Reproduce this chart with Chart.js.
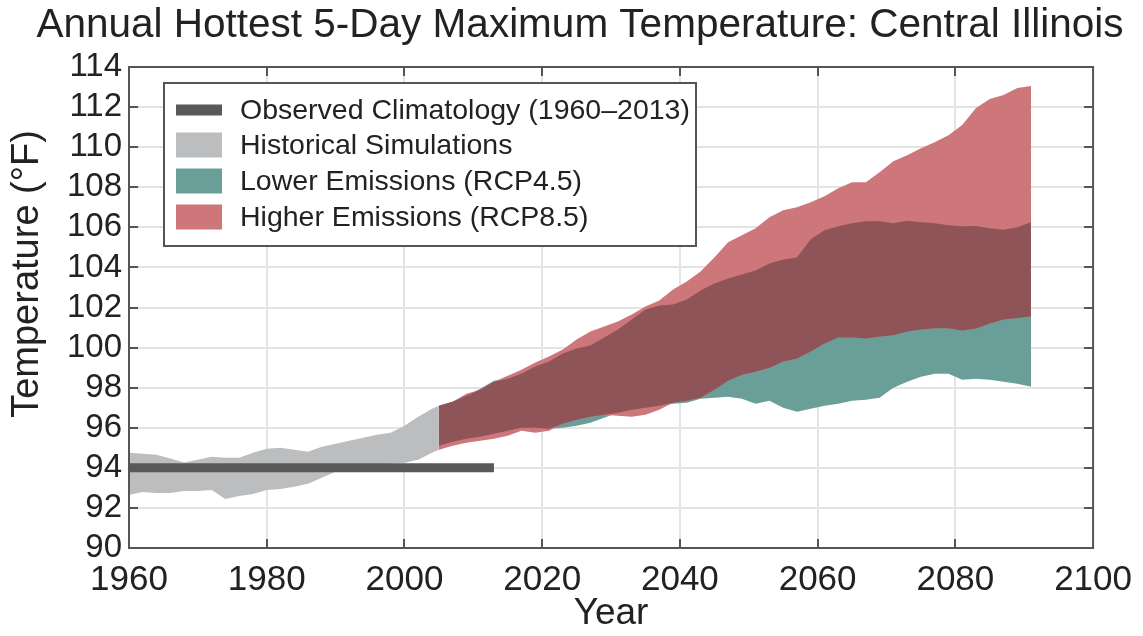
<!DOCTYPE html>
<html>
<head>
<meta charset="utf-8">
<script src="https://cdn.jsdelivr.net/npm/chart.js@4.4.1/dist/chart.umd.min.js"></script>
<style>
  html, body { margin: 0; padding: 0; background: #fff; overflow: hidden; }
  #wrap { width: 1143px; height: 636px; position: relative; }
</style>
</head>
<body>
<div id="wrap"><canvas id="chart"></canvas></div>
<script>
// historical simulations range
const histYears = [1960, 1962, 1964, 1966, 1968, 1970, 1972, 1974, 1976, 1978, 1980, 1982,
    1984, 1986, 1988, 1990, 1992, 1994, 1996, 1998, 2000, 2002, 2004, 2005];
const histUpper = [94.75, 94.7, 94.65, 94.47, 94.27, 94.4, 94.55, 94.5, 94.5, 94.75, 94.95, 95.0,
    94.9, 94.8, 95.05, 95.2, 95.35, 95.5, 95.65, 95.75, 96.1, 96.55, 96.95, 97.1];
const histLower = [92.65, 92.8, 92.75, 92.75, 92.85, 92.85, 92.9, 92.45, 92.6, 92.7, 92.9, 92.95,
    93.05, 93.2, 93.5, 93.8, 93.9, 94.0, 94.1, 94.2, 94.25, 94.4, 94.75, 94.9];

// projections 2005-2091
const futureYears = [2005, 2007, 2009, 2011, 2013, 2015, 2017, 2019, 2021, 2023,
    2025, 2027, 2029, 2031, 2033, 2035, 2037, 2039, 2041, 2043,
    2045, 2047, 2049, 2051, 2053, 2055, 2057, 2059, 2061, 2063,
    2065, 2067, 2069, 2071, 2073, 2075, 2077, 2079, 2081, 2083,
    2085, 2087, 2089, 2091];
const rcp45Upper = [97.1, 97.3, 97.6, 97.95, 98.35, 98.45, 98.7, 99.05, 99.3, 99.7,
    99.95, 100.1, 100.5, 100.9, 101.4, 101.9, 102.1, 102.15, 102.4, 102.85,
    103.2, 103.45, 103.65, 103.85, 104.2, 104.4, 104.5, 105.4, 105.85, 106.05,
    106.2, 106.3, 106.3, 106.2, 106.33, 106.25, 106.2, 106.1, 106.05, 106.07,
    105.95, 105.88, 106.0, 106.25];
const rcp45Lower = [95.1, 95.3, 95.45, 95.55, 95.7, 95.85, 96.0, 96.0, 95.95, 96.0,
    96.1, 96.25, 96.5, 96.75, 96.9, 97.0, 97.1, 97.2, 97.25, 97.45,
    97.5, 97.55, 97.45, 97.2, 97.35, 97.0, 96.8, 96.95, 97.1, 97.2,
    97.35, 97.4, 97.5, 98.0, 98.3, 98.55, 98.7, 98.7, 98.4, 98.45,
    98.4, 98.3, 98.2, 98.05];
const rcp85Upper = [97.1, 97.3, 97.7, 97.9, 98.3, 98.6, 98.9, 99.25, 99.55, 99.9,
    100.4, 100.8, 101.05, 101.3, 101.65, 102.05, 102.35, 102.9, 103.3, 103.8,
    104.5, 105.25, 105.6, 105.95, 106.5, 106.85, 107.0, 107.25, 107.55, 107.95,
    108.25, 108.25, 108.75, 109.3, 109.6, 109.95, 110.25, 110.6, 111.1, 111.95,
    112.4, 112.6, 112.95, 113.05];
const rcp85Lower = [94.9, 95.1, 95.25, 95.35, 95.45, 95.6, 95.85, 95.75, 95.85, 96.2,
    96.4, 96.55, 96.65, 96.6, 96.55, 96.65, 96.9, 97.25, 97.35, 97.5,
    97.9, 98.35, 98.65, 98.8, 99.0, 99.3, 99.45, 99.8, 100.2, 100.5,
    100.5, 100.45, 100.55, 100.62, 100.8, 100.9, 100.96, 100.96, 100.85, 100.95,
    101.2, 101.4, 101.48, 101.55];

// observed climatology
const obsYears = [1960, 2013];
const obsValues = [94, 94];

const xTicks = [1960, 1980, 2000, 2020, 2040, 2060, 2080, 2100];
const yTicks = [90, 92, 94, 96, 98, 100, 102, 104, 106, 108, 110, 112, 114];

const chartTitle = 'Annual Hottest 5-Day Maximum Temperature: Central Illinois';
const yTitle = 'Temperature (\u00b0F)';
const legendLabels = ['Observed Climatology (1960\u20132013)', 'Historical Simulations',
    'Lower Emissions (RCP4.5)', 'Higher Emissions (RCP8.5)'];

const colors = {
    obs: '#595959',
    hist: '#bcbdbf',
    low: '#6a9f99',
    high: '#cd777b',
    both: '#8f5457'
};

const FONT = '"Liberation Sans", Arial, sans-serif';

const pts = (xs, ys) => xs.map((x, i) => ({ x: x, y: ys[i] }));

// where the two scenario ranges overlap
const bothLower = futureYears.map((y, i) => Math.max(rcp45Lower[i], rcp85Lower[i]));
const bothUpper = futureYears.map((y, i) => Math.min(rcp45Upper[i], rcp85Upper[i]));

const band = (data, order, fill, color) => ({
    data: data,
    order: order,
    fill: fill,
    backgroundColor: color,
    borderColor: 'rgba(0,0,0,0)',
    borderWidth: 0,
    pointRadius: 0,
    tension: 0
});

const frame = {
    id: 'frame',
    afterDatasetsDraw(chart) {
        const { ctx, chartArea: a } = chart;
        const xs = chart.scales.x, ys = chart.scales.y;
        ctx.save();
        ctx.strokeStyle = '#555';
        ctx.lineWidth = 2;
        ctx.beginPath();
        xTicks.slice(1, -1).forEach(v => {
            const px = Math.round(xs.getPixelForValue(v));
            ctx.moveTo(px, a.top); ctx.lineTo(px, a.top + 9);
            ctx.moveTo(px, a.bottom); ctx.lineTo(px, a.bottom - 9);
        });
        yTicks.slice(1, -1).forEach(v => {
            const py = Math.round(ys.getPixelForValue(v));
            ctx.moveTo(a.left, py); ctx.lineTo(a.left + 9, py);
            ctx.moveTo(a.right, py); ctx.lineTo(a.right - 9, py);
        });
        ctx.stroke();
        ctx.strokeRect(a.left, a.top, a.right - a.left, a.bottom - a.top);
        ctx.restore();
    },
    afterDraw(chart) {
        const { ctx, chartArea: a } = chart;
        ctx.save();

        // chart title and y-axis title
        ctx.fillStyle = '#222';
        ctx.textAlign = 'center';
        ctx.textBaseline = 'middle';
        ctx.font = '40.5px ' + FONT;
        ctx.fillText(chartTitle, 580, 26);
        ctx.translate(28, 274);
        ctx.rotate(-Math.PI / 2);
        ctx.font = '38px ' + FONT;
        ctx.fillText(yTitle, 0, 0);
        ctx.setTransform(1, 0, 0, 1, 0, 0);

        // legend box
        const left = a.left + 35, top = a.top + 16, w = 532, h = 163;
        const swatch = [colors.obs, colors.hist, colors.low, colors.high];
        const rows = [110, 145, 181, 217];
        ctx.fillStyle = '#fff';
        ctx.fillRect(left, top, w, h);
        ctx.strokeStyle = '#555';
        ctx.lineWidth = 2;
        ctx.strokeRect(left, top, w, h);
        ctx.font = '28.5px ' + FONT;
        ctx.textAlign = 'left';
        legendLabels.forEach((label, i) => {
            const cy = rows[i];
            const sh = i === 0 ? 11 : 25;
            ctx.fillStyle = swatch[i];
            ctx.fillRect(left + 12, cy - sh / 2, 46, sh);
            ctx.fillStyle = '#222';
            ctx.fillText(label, left + 76, cy + 1);
        });
        ctx.restore();
    }
};

Chart.defaults.font.family = FONT;
Chart.defaults.color = '#222';

new Chart(document.getElementById('chart'), {
    type: 'line',
    data: {
        datasets: [
            { data: pts(obsYears, obsValues), order: 0, fill: false, borderColor: colors.obs,
              borderWidth: 9, borderCapStyle: 'butt', pointRadius: 0 },
            band(pts(futureYears, bothLower), 1, false, colors.both),
            band(pts(futureYears, bothUpper), 1, '-1', colors.both),
            band(pts(futureYears, rcp85Lower), 2, false, colors.high),
            band(pts(futureYears, rcp85Upper), 2, '-1', colors.high),
            band(pts(futureYears, rcp45Lower), 3, false, colors.low),
            band(pts(futureYears, rcp45Upper), 3, '-1', colors.low),
            band(pts(histYears, histLower), 4, false, colors.hist),
            band(pts(histYears, histUpper), 4, '-1', colors.hist)
        ]
    },
    options: {
        responsive: true,
        maintainAspectRatio: false,
        animation: false,
        layout: { padding: { left: 0, right: 44, top: 67, bottom: 0 } },
        plugins: {
            legend: { display: false },
            tooltip: { enabled: false },
            title: { display: false }
        },
        scales: {
            x: {
                type: 'linear',
                min: 1960,
                max: 2100,
                afterBuildTicks: s => { s.ticks = xTicks.map(v => ({ value: v })); },
                afterFit: s => { s.height = 88; },
                ticks: { font: { size: 35 }, color: '#222', padding: 11, maxRotation: 0,
                         autoSkip: false, callback: v => String(v) },
                grid: { color: '#e4e4e4', lineWidth: 2, drawTicks: false },
                border: { display: false },
                title: { display: true, text: 'Year', font: { size: 37 }, color: '#222',
                         padding: { top: 0, bottom: 0 } }
            },
            y: {
                min: 90,
                max: 114,
                afterBuildTicks: s => { s.ticks = yTicks.map(v => ({ value: v })); },
                afterFit: s => { s.width = 129; },
                ticks: { font: { size: 33 }, color: '#222', padding: 7,
                         autoSkip: false, callback: v => String(v) },
                grid: { color: '#e4e4e4', lineWidth: 2, drawTicks: false },
                border: { display: false },
                title: { display: false }
            }
        }
    },
    plugins: [frame]
});
</script>
</body>
</html>
